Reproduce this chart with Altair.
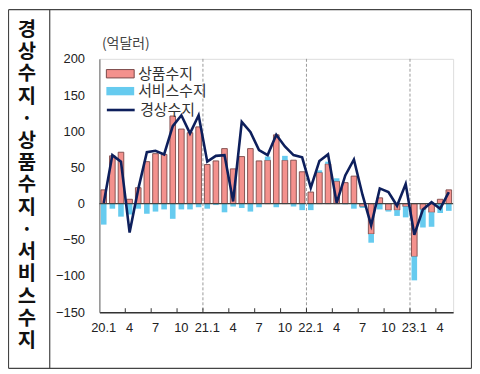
import altair as alt
import pandas as pd

# ---- data (억달러) ----
years = ["20"] * 12 + ["21"] * 12 + ["22"] * 12 + ["23"] * 5
months = list(range(1, 13)) * 3 + [1, 2, 3, 4, 5]
goods = [19, 66, 71, 6, 22, 58, 69, 68, 121, 103, 98, 106,
         54, 59, 76, 48, 65, 76, 59, 60, 95, 60, 60, 44,
         16, 43, 55, 31, 29, 38, -4, -42, 8, -9, -9, -4,
         -73, -8, -12, 6, 19]
services = [-29, -7, -18, -15, -7, -14, -11, -8, -21, -8, -8, -5,
            -7, -2, -12, -4, -6, -11, -5, 5, -5, 6, -4, -9,
            -9, 3, 3, 4, -1, -7, -2, -12, -8, -2, -8, -15,
            -33, -25, -20, -13, -10]
current = [1, 67, 58, -40, 20, 71, 73, 68, 107, 122, 97, 122,
           58, 66, 67, 3, 113, 99, 74, 67, 95, 79, 67, 64,
           22, 59, 68, 1, 39, 61, 12, -30, 21, 16, -3, 27,
           -43, -8, 2, -7, 16]
series_names = ["상품수지", "서비스수지"]
line_name = "경상수지"
y_ticks = [-150, -100, -50, 0, 50, 100, 150, 200]
labeled_months = [1, 4, 7, 10]
unit_text = "(억달러)"
side_title = "경상수지·상품수지·서비스수지"

keys = [f"{y}.{m}" for y, m in zip(years, months)]
wide = pd.DataFrame({"key": keys, "month": months, "idx": range(len(keys)),
                     "current": current})
long = pd.DataFrame({
    "key": keys * 2,
    "series": [series_names[0]] * len(keys) + [series_names[1]] * len(keys),
    "value": goods + services,
    "ord": [0] * len(keys) + [1] * len(keys),
})

label_keys = [k for k, m in zip(keys, months) if m in labeled_months]
label_expr = ("split(datum.label,'.')[1] == '1' ? datum.label : "
              "split(datum.label,'.')[1]")

W, H = 356, 255
FONT_NUM = "Liberation Sans"
FONT_KR = "Noto Sans CJK KR"

xscale = alt.Scale(paddingInner=0, paddingOuter=0)
x_axis = alt.Axis(values=label_keys, labelExpr=label_expr, title=None,
                  ticks=False, labelAngle=0, labelPadding=9,
                  labelFontSize=13, labelFont=FONT_NUM,
                  labelColor="#222", domainColor="#333",
                  domainWidth=1.5, labelOverlap=False)

yscale = alt.Scale(domain=[-150, 200], nice=False, zero=False)
y_axis = alt.Axis(values=y_ticks, title=unit_text, titleAngle=0,
                  titleX=2, titleY=-15, titleAlign="left",
                  titleBaseline="middle", titleFont=FONT_KR,
                  titleFontSize=14, titleFontWeight="normal",
                  titleColor="#444", ticks=False, grid=False,
                  labelOverlap=False, labelFlush=False,
                  labelPadding=15, labelFontSize=13, labelFont=FONT_NUM,
                  labelColor="#222", domainColor="#666")

legend_common = dict(orient="none", legendX=13.5, legendY=7.5, title=None,
                     symbolType="M-2,-0.6H2V0.6H-2Z", symbolSize=196,
                     labelFont=FONT_KR, labelFontSize=15, labelColor="#333",
                     padding=0, labelOffset=10.5, rowPadding=1.5,
                     symbolStrokeWidth=1, symbolOpacity=1)

bars = alt.Chart(long).mark_bar(width={"band": 0.65}, strokeWidth=0.9).encode(
    x=alt.X("key:O", sort=keys, scale=xscale, axis=x_axis),
    y=alt.Y("value:Q", stack="zero", scale=yscale, axis=y_axis),
    fill=alt.Fill("series:N",
                  scale=alt.Scale(domain=series_names, range=["#F4918D", "#66CBEF"]),
                  legend=alt.Legend(**legend_common)),
    stroke=alt.Stroke("series:N",
                      scale=alt.Scale(domain=series_names, range=["#7a4848", "transparent"]),
                      legend=alt.Legend(**legend_common)),
    order=alt.Order("ord:Q"),
)

zero = alt.Chart(pd.DataFrame({"z": [0]})).mark_rule(color="#444", strokeWidth=1.2).encode(
    y=alt.Y("z:Q", scale=yscale, axis=y_axis))

line = alt.Chart(wide).transform_calculate(name=f"'{line_name}'").mark_line(
    strokeWidth=2.6, strokeJoin="miter").encode(
    x=alt.X("key:O", sort=keys, scale=xscale, axis=x_axis),
    y=alt.Y("current:Q", scale=yscale, axis=y_axis),
    color=alt.Color("name:N",
                    scale=alt.Scale(domain=[line_name], range=["#0d1f5c"]),
                    legend=alt.Legend(orient="none", legendX=6, legendY=36, title=None,
                                      symbolType="stroke", symbolSize=784,
                                      symbolStrokeWidth=2.6, labelFont=FONT_KR,
                                      labelFontSize=15, labelColor="#333",
                                      padding=0, labelOffset=4)),
)

year_lines = alt.Chart(wide).transform_filter(
    "datum.month == 1 && datum.idx > 0").mark_rule(
    color="#999", strokeDash=[3, 2], strokeWidth=1).encode(
    x=alt.X("key:O", sort=keys, bandPosition=0, scale=xscale, axis=x_axis),
    y=alt.value(0), y2=alt.value(H))

qticks = alt.Chart(wide).transform_filter(
    "indexof([1,4,7,10], datum.month) >= 0 && datum.idx > 0").mark_rule(
    color="#333", strokeWidth=1).encode(
    x=alt.X("key:O", sort=keys, bandPosition=0, scale=xscale, axis=x_axis),
    y=alt.value(H), y2=alt.value(H - 4))

side = alt.Chart(pd.DataFrame({"t": ["\n".join(side_title)]})).mark_text(
    lineBreak="\n", lineHeight=22.36, fontSize=20, fontWeight="bold",
    font=FONT_KR, align="center", baseline="middle", color="#111").encode(
    text="t:N", x=alt.value(-73), y=alt.value(-29))

one = pd.DataFrame({"a": [0]})
frame_color = "#444"
frame = alt.layer(
    alt.Chart(one).mark_rule(color=frame_color, strokeWidth=1.2).encode(
        x=alt.value(-91.5), x2=alt.value(374.5), y=alt.value(-49.5)),
    alt.Chart(one).mark_rule(color=frame_color, strokeWidth=1.2).encode(
        x=alt.value(-91.5), x2=alt.value(374.5), y=alt.value(311.5)),
    alt.Chart(one).mark_rule(color=frame_color, strokeWidth=1.2).encode(
        x=alt.value(-91.5), y=alt.value(-49.5), y2=alt.value(311.5)),
    alt.Chart(one).mark_rule(color=frame_color, strokeWidth=1.2).encode(
        x=alt.value(-50), y=alt.value(-49.5), y2=alt.value(311.5)),
    alt.Chart(one).mark_rule(color=frame_color, strokeWidth=1.2).encode(
        x=alt.value(374.5), y=alt.value(-49.5), y2=alt.value(311.5)),
)

chart = alt.layer(bars, zero, year_lines, qticks, line, side, frame).properties(
    width=W, height=H,
    autosize=alt.AutoSizeParams(type="none"),
    padding={"left": 92, "top": 50, "right": 19, "bottom": 57},
).resolve_scale(fill="independent", stroke="independent", color="independent").configure_view(
    stroke="#aaa", strokeWidth=1
).configure_axis(labelOverlap=False).configure(background="white")

chart.save("out.html", embed_options={"renderer": "svg", "actions": False})
